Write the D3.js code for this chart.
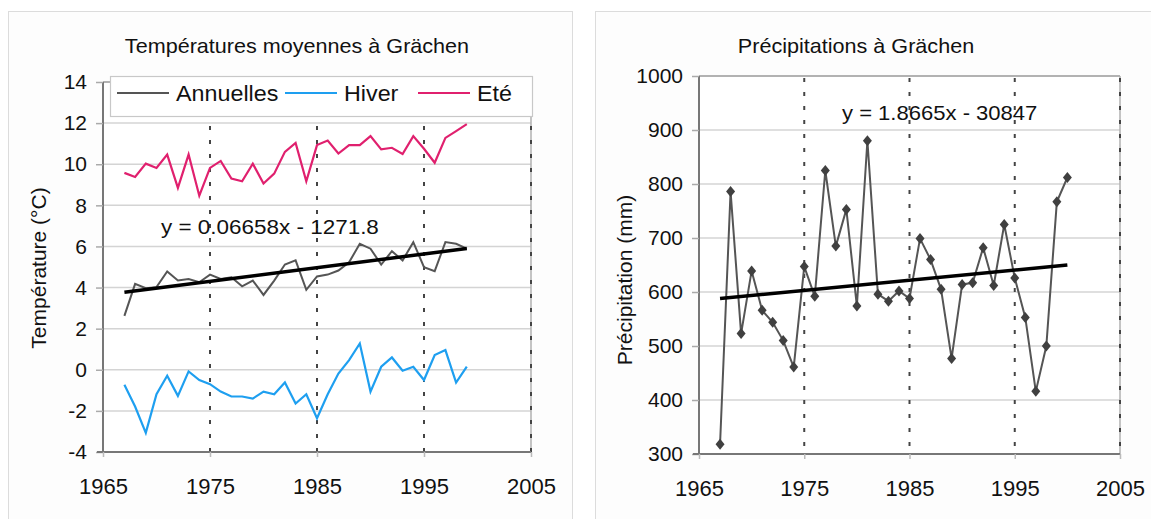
<!DOCTYPE html>
<html><head><meta charset="utf-8">
<script src="https://cdn.jsdelivr.net/npm/d3@7"></script>
<style>
html,body{margin:0;padding:0;background:#fff;}
svg{display:block;font-family:"Liberation Sans",Arial,sans-serif;}
</style></head>
<body>
<svg id="c" width="1151" height="519"></svg>
<script>
// ---------- data ----------
const tempYears = d3.range(1967, 2000);
const annuelles = [2.62,4.18,3.97,4.02,4.78,4.34,4.42,4.26,4.63,4.42,4.50,4.06,4.34,3.64,4.34,5.12,5.32,3.89,4.54,4.63,4.83,5.23,6.13,5.89,5.12,5.77,5.32,6.21,4.99,4.80,6.21,6.13,5.89];
const hiver = [-0.73,-1.79,-3.07,-1.19,-0.29,-1.27,-0.08,-0.50,-0.70,-1.06,-1.30,-1.30,-1.40,-1.06,-1.19,-0.62,-1.64,-1.19,-2.36,-1.19,-0.18,0.47,1.28,-1.06,0.15,0.60,-0.05,0.15,-0.50,0.72,0.96,-0.62,0.15];
const ete = [9.58,9.38,10.03,9.82,10.47,8.85,10.47,8.47,9.82,10.16,9.30,9.17,10.03,9.06,9.54,10.60,11.04,9.17,10.93,11.15,10.52,10.93,10.93,11.37,10.72,10.80,10.50,11.37,10.75,10.07,11.28,11.61,11.95];
const tempTrend = [[1967,3.77],[1999,5.90]];
const tempEquation = "y = 0.06658x - 1271.8";

const precYears = d3.range(1967, 2001);
const precipitation = [318,786,523,639,566,544,510,461,647,592,825,685,753,574,880,596,583,602,588,699,660,605,477,614,617,682,612,725,626,553,416,500,767,812];
const precTrend = [[1967,588],[2000,650]];
const precEquation = "y = 1.8665x - 30847";

const xTicks = [1965,1975,1985,1995,2005];
const tempTicks = [-4,-2,0,2,4,6,8,10,12,14];
const precTicks = [300,400,500,600,700,800,900,1000];
const legendItems = [{name:"Annuelles",key:"a"},{name:"Hiver",key:"h"},{name:"Eté",key:"e"}];

// ---------- style ----------
const colors = {a:"#555555", h:"#1e9ff0", e:"#e0206e"};
const svg = d3.select("#c");

// frames
svg.append("rect").attr("x",8.5).attr("y",11.5).attr("width",564).attr("height",530)
  .attr("fill","#fdfdfd").attr("stroke","#dcdcdc");
svg.append("rect").attr("x",595.5).attr("y",11.5).attr("width",570).attr("height",530)
  .attr("fill","#fdfdfd").attr("stroke","#dcdcdc");

function panel(cfg){
  const g = svg.append("g");
  const x = d3.scaleLinear().domain([1965,2005]).range(cfg.xr);
  const y = d3.scaleLinear().domain(cfg.yd).range(cfg.yr);
  const [x0,x1] = cfg.xr, [y0,y1] = cfg.yr; // y0 bottom, y1 top
  g.append("rect").attr("x",x0).attr("y",y1).attr("width",x1-x0).attr("height",y0-y1).attr("fill","#fff");
  // horizontal grid
  g.selectAll(".hg").data(cfg.yTicks.filter(t=>t!==cfg.yd[0] && t!==cfg.yd[1])).join("line")
    .attr("x1",x0).attr("x2",x1).attr("y1",d=>y(d)).attr("y2",d=>y(d))
    .attr("stroke","#d4d4d4").attr("stroke-width",1.5);
  // top & right border
  g.append("line").attr("x1",x0).attr("x2",x1).attr("y1",y1).attr("y2",y1).attr("stroke","#999").attr("stroke-width",1.5);
  g.append("line").attr("x1",x1).attr("x2",x1).attr("y1",y1).attr("y2",y0).attr("stroke","#b0b0b0").attr("stroke-width",1.5);
  // vertical dashed lines
  g.selectAll(".vg").data(xTicks.slice(1)).join("line")
    .attr("x1",d=>x(d)).attr("x2",d=>x(d)).attr("y1",y1+2).attr("y2",y0)
    .attr("stroke","#444").attr("stroke-width",2).attr("stroke-dasharray","4,10");
  // axes
  const ya = d3.axisLeft(y).tickValues(cfg.yTicks).tickSize(7).tickPadding(9).tickFormat(d=>d);
  const ga = g.append("g").attr("transform",`translate(${x0},0)`).call(ya);
  ga.select(".domain").attr("stroke","#777").attr("stroke-width",2).attr("d",`M0,${y1}V${y0}`);
  ga.selectAll(".tick line").attr("stroke","#aaa").attr("stroke-width",1.5);
  ga.selectAll("text").attr("font-size",21).attr("fill","#111").attr("font-family","Liberation Sans, Arial, sans-serif");
  const xa = d3.axisBottom(x).tickValues(xTicks).tickSize(5).tickPadding(21).tickFormat(d3.format("d"));
  const gx = g.append("g").attr("transform",`translate(0,${y0})`).call(xa);
  gx.select(".domain").attr("stroke","#777").attr("stroke-width",2).attr("d",`M${x0-6},0H${x1}`);
  gx.selectAll(".tick line").attr("stroke","#bbb").attr("stroke-width",1.5);
  gx.selectAll("text").attr("font-size",22).attr("fill","#111").attr("font-family","Liberation Sans, Arial, sans-serif");
  // title
  g.append("text").attr("x",cfg.titleX).attr("y",53).attr("text-anchor","middle")
    .attr("font-size",20).attr("fill","#111").attr("transform",`translate(${cfg.titleX},0) scale(1.08,1) translate(${-cfg.titleX},0)`).text(cfg.title);
  // y title
  g.append("text").attr("transform",`translate(${cfg.ytX},${cfg.ytY}) rotate(-90)`).attr("text-anchor","middle")
    .attr("font-size",21).attr("fill","#111").text(cfg.yTitle);
  return {g,x,y};
}

// ---------- left panel ----------
const L = panel({xr:[103,531], yr:[452,82], yd:[-4,14], yTicks:tempTicks,
  title:"Températures moyennes à Grächen", titleX:297, yTitle:"Température (°C)", ytX:46, ytY:268});
const lineL = (arr)=>d3.line().x((d,i)=>L.x(tempYears[i])).y(d=>L.y(d))(arr);
L.g.append("path").attr("d",lineL(annuelles)).attr("fill","none").attr("stroke",colors.a).attr("stroke-width",2);
L.g.append("path").attr("d",lineL(hiver)).attr("fill","none").attr("stroke",colors.h).attr("stroke-width",2.2);
L.g.append("path").attr("d",lineL(ete)).attr("fill","none").attr("stroke",colors.e).attr("stroke-width",2.2);
L.g.append("path").attr("d",d3.line().x(d=>L.x(d[0])).y(d=>L.y(d[1]))(tempTrend))
  .attr("fill","none").attr("stroke","#000").attr("stroke-width",3.5);
L.g.append("text").attr("x",161).attr("y",234).attr("font-size",21).attr("fill","#111")
  .attr("transform","translate(161,0) scale(1.07,1) translate(-161,0)").text(tempEquation);
// legend
const lg = L.g.append("g");
lg.append("rect").attr("x",110.5).attr("y",76.5).attr("width",422).attr("height",40)
  .attr("fill","#fff").attr("stroke","#c8c8c8").attr("stroke-width",1.2);
const legX = [117,285,418];
legendItems.forEach((it,i)=>{
  lg.append("line").attr("x1",legX[i]).attr("x2",legX[i]+52).attr("y1",93).attr("y2",93)
    .attr("stroke",colors[it.key]).attr("stroke-width",2.2);
  lg.append("text").attr("x",legX[i]+59).attr("y",101).attr("font-size",22).attr("fill","#111")
    .attr("transform",`translate(${legX[i]+59},0) scale(1.06,1) translate(${-(legX[i]+59)},0)`).text(it.name);
});

// ---------- right panel ----------
const R = panel({xr:[699,1120], yr:[454,76], yd:[300,1000], yTicks:precTicks,
  title:"Précipitations à Grächen", titleX:856, yTitle:"Précipitation  (mm)", ytX:632, ytY:280});
R.g.append("path").attr("d",d3.line().x((d,i)=>R.x(precYears[i])).y(d=>R.y(d))(precipitation))
  .attr("fill","none").attr("stroke","#555").attr("stroke-width",2);
R.g.selectAll(".mk").data(precipitation).join("path")
  .attr("d","M0,-5.5L4.5,0L0,5.5L-4.5,0Z")
  .attr("transform",(d,i)=>`translate(${R.x(precYears[i])},${R.y(d)})`).attr("fill","#404040");
R.g.append("path").attr("d",d3.line().x(d=>R.x(d[0])).y(d=>R.y(d[1]))(precTrend))
  .attr("fill","none").attr("stroke","#000").attr("stroke-width",3.5);
R.g.append("text").attr("x",842).attr("y",120).attr("font-size",21).attr("fill","#111")
  .attr("transform","translate(842,0) scale(1.05,1) translate(-842,0)").text(precEquation);
</script>
</body></html>
